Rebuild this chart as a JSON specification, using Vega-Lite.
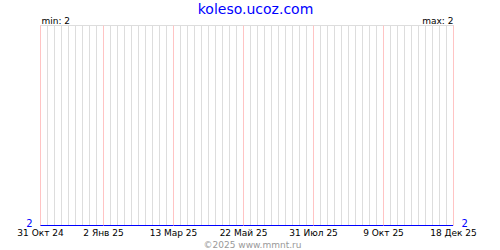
{
  "$schema": "https://vega.github.io/schema/vega-lite/v6.json",
  "width": 413,
  "height": 200,
  "autosize": {"type": "none"},
  "padding": {"left": 40, "top": 25, "right": 47, "bottom": 25},
  "background": "#ffffff",
  "title": {
    "text": "koleso.ucoz.com",
    "font": "DejaVu Sans",
    "fontSize": 14,
    "fontWeight": "normal",
    "color": "#0000ff",
    "anchor": "middle",
    "baseline": "alphabetic",
    "offset": 2,
    "dx": 9,
    "dy": 14
  },
  "data": {
    "values": [
      {"date": "2024-10-31", "value": 2}, {"date": "2024-11-07", "value": 2}, {"date": "2024-11-14", "value": 2},
      {"date": "2024-11-21", "value": 2}, {"date": "2024-11-28", "value": 2}, {"date": "2024-12-05", "value": 2},
      {"date": "2024-12-12", "value": 2}, {"date": "2024-12-19", "value": 2}, {"date": "2024-12-26", "value": 2},
      {"date": "2025-01-02", "value": 2}, {"date": "2025-01-09", "value": 2}, {"date": "2025-01-16", "value": 2},
      {"date": "2025-01-23", "value": 2}, {"date": "2025-01-30", "value": 2}, {"date": "2025-02-06", "value": 2},
      {"date": "2025-02-13", "value": 2}, {"date": "2025-02-20", "value": 2}, {"date": "2025-02-27", "value": 2},
      {"date": "2025-03-06", "value": 2}, {"date": "2025-03-13", "value": 2}, {"date": "2025-03-20", "value": 2},
      {"date": "2025-03-27", "value": 2}, {"date": "2025-04-03", "value": 2}, {"date": "2025-04-10", "value": 2},
      {"date": "2025-04-17", "value": 2}, {"date": "2025-04-24", "value": 2}, {"date": "2025-05-01", "value": 2},
      {"date": "2025-05-08", "value": 2}, {"date": "2025-05-15", "value": 2}, {"date": "2025-05-22", "value": 2},
      {"date": "2025-05-29", "value": 2}, {"date": "2025-06-05", "value": 2}, {"date": "2025-06-12", "value": 2},
      {"date": "2025-06-19", "value": 2}, {"date": "2025-06-26", "value": 2}, {"date": "2025-07-03", "value": 2},
      {"date": "2025-07-10", "value": 2}, {"date": "2025-07-17", "value": 2}, {"date": "2025-07-24", "value": 2},
      {"date": "2025-07-31", "value": 2}, {"date": "2025-08-07", "value": 2}, {"date": "2025-08-14", "value": 2},
      {"date": "2025-08-21", "value": 2}, {"date": "2025-08-28", "value": 2}, {"date": "2025-09-04", "value": 2},
      {"date": "2025-09-11", "value": 2}, {"date": "2025-09-18", "value": 2}, {"date": "2025-09-25", "value": 2},
      {"date": "2025-10-02", "value": 2}, {"date": "2025-10-09", "value": 2}, {"date": "2025-10-16", "value": 2},
      {"date": "2025-10-23", "value": 2}, {"date": "2025-10-30", "value": 2}, {"date": "2025-11-06", "value": 2},
      {"date": "2025-11-13", "value": 2}, {"date": "2025-11-20", "value": 2}, {"date": "2025-11-27", "value": 2},
      {"date": "2025-12-04", "value": 2}, {"date": "2025-12-11", "value": 2}, {"date": "2025-12-18", "value": 2}
    ]
  },
  "layer": [
    {
      "mark": {"type": "rule", "color": "#dddddd", "strokeWidth": 1, "xOffset": 0.5},
      "encoding": {
        "x": {
          "field": "date",
          "type": "temporal",
          "scale": {"type": "utc", "nice": false, "padding": 0},
          "axis": {
            "values": [
              {"year": 2024, "month": 10, "date": 31, "utc": true},
              {"year": 2025, "month": 1, "date": 2, "utc": true},
              {"year": 2025, "month": 3, "date": 13, "utc": true},
              {"year": 2025, "month": 5, "date": 22, "utc": true},
              {"year": 2025, "month": 7, "date": 31, "utc": true},
              {"year": 2025, "month": 10, "date": 9, "utc": true},
              {"year": 2025, "month": 12, "date": 18, "utc": true}
            ],
            "labelExpr": "utcdate(datum.value) + ' ' + ['Янв','Фев','Мар','Апр','Май','Июн','Июл','Авг','Сен','Окт','Ноя','Дек'][utcmonth(datum.value)] + ' ' + utcFormat(datum.value, '%y')",
            "grid": true,
            "gridColor": "#ffc4c4",
            "gridOpacity": 1,
            "zindex": 1,
            "domain": false,
            "ticks": false,
            "labelPadding": 3,
            "labelBaseline": "top",
            "labelFlush": false,
            "labelOverlap": false,
            "labelFont": "DejaVu Sans",
            "labelFontSize": 9,
            "labelColor": "#000000",
            "title": "©2025 www.mmnt.ru",
            "titleFont": "DejaVu Sans",
            "titleFontSize": 9,
            "titleFontWeight": "normal",
            "titleColor": "#999999",
            "titleX": 212,
            "titleY": 22,
            "titleBaseline": "alphabetic",
            "titleAnchor": null,
            "titleAlign": "center"
          }
        }
      }
    },
    {
      "mark": {"type": "line", "color": "#0000ff", "strokeWidth": 1, "yOffset": 0.5},
      "encoding": {
        "x": {"field": "date", "type": "temporal"},
        "y": {
          "field": "value",
          "type": "quantitative",
          "scale": {"domain": [2, 3], "nice": false, "zero": false},
          "axis": {
            "orient": "left",
            "values": [2],
            "grid": false,
            "domain": false,
            "ticks": false,
            "labelPadding": 8,
            "labelBaseline": "middle",
            "labelFont": "DejaVu Sans",
            "labelFontSize": 10,
            "labelColor": "#0000ff",
            "labelOffset": -2,
            "title": "min: 2",
            "titleAngle": 0,
            "titleAlign": "left",
            "titleBaseline": "alphabetic",
            "titleX": 1,
            "titleY": -2,
            "titleFont": "DejaVu Sans",
            "titleFontSize": 9,
            "titleFontWeight": "normal",
            "titleColor": "#000000"
          }
        }
      }
    },
    {
      "mark": {"type": "line", "color": "#0000ff", "strokeWidth": 1, "yOffset": 0.5},
      "encoding": {
        "x": {"field": "date", "type": "temporal"},
        "y": {
          "field": "value",
          "type": "quantitative",
          "axis": {
            "orient": "right",
            "values": [2],
            "grid": false,
            "domain": false,
            "ticks": false,
            "labelPadding": 8,
            "labelBaseline": "middle",
            "labelFont": "DejaVu Sans",
            "labelFontSize": 10,
            "labelColor": "#0000ff",
            "labelOffset": -2,
            "title": "max: 2",
            "titleAngle": 0,
            "titleAlign": "right",
            "titleBaseline": "alphabetic",
            "titleX": 0,
            "titleY": -2,
            "titleFont": "DejaVu Sans",
            "titleFontSize": 9,
            "titleFontWeight": "normal",
            "titleColor": "#000000"
          }
        }
      }
    }
  ],
  "resolve": {"axis": {"y": "independent"}},
  "config": {
    "view": {"stroke": "#dddddd", "strokeWidth": 1},
    "font": "DejaVu Sans"
  }
}
